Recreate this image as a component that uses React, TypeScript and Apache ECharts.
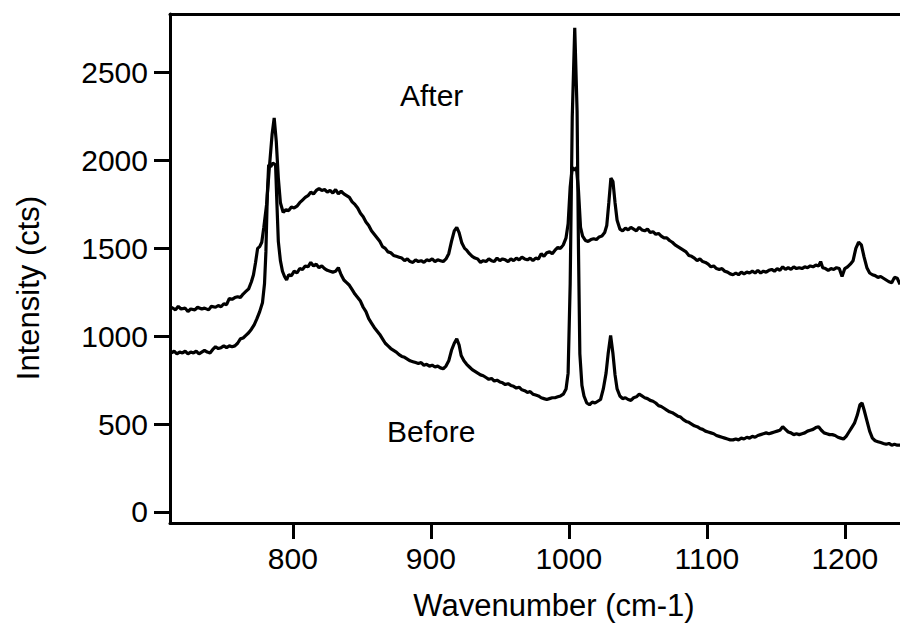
import React, { useEffect, useRef } from "react";
import * as echarts from "echarts";

const xTicks = [800, 900, 1000, 1100, 1200];
const yTicks = [0, 500, 1000, 1500, 2000, 2500];

const afterSeries: [number, number][] = [
  [712,1165],[715,1150],[717,1170],[719,1155],[722,1160],[724,1140],[726,1155],[729,1150],[731,1165],[734,1155],[736,1160],[739,1150],[741,1170],[744,1165],[746,1175],[748,1168],[750,1185],[752,1180],[754,1215],[756,1210],[758,1220],[760,1225],[762,1220],[764,1240],[766,1255],[768,1270],[770,1310],[771.5,1350],[773,1420],[774.5,1500],[776,1510],[777.5,1535],[779,1620],[781,1750],[783,1960],[785,2150],[786.5,2242],[788,2110],[789.5,1900],[791,1760],[793,1705],[795,1720],[797,1715],[799,1735],[801,1730],[803,1740],[805,1760],[807,1775],[809,1790],[811,1800],[813,1820],[815,1810],[817,1830],[819,1840],[821,1830],[823,1835],[825,1820],[827,1830],[829,1815],[831,1835],[833,1810],[835,1825],[837,1810],[839,1800],[841,1790],[843,1765],[845,1750],[847,1730],[849,1700],[851,1680],[853,1650],[855,1630],[857,1600],[859,1580],[861,1560],[863,1540],[865,1510],[867,1500],[869,1480],[871,1475],[873,1460],[875,1455],[877,1450],[879,1445],[881,1430],[883,1440],[885,1425],[887,1420],[889,1435],[891,1425],[893,1430],[895,1420],[897,1435],[899,1430],[901,1440],[903,1425],[905,1435],[907,1430],[909,1425],[911,1440],[913,1470],[915,1540],[917,1600],[918.8,1620],[920.5,1590],[922.5,1530],[924.5,1500],[926,1490],[928,1470],[930,1455],[932,1445],[934,1440],[936,1420],[938,1430],[940,1425],[942,1440],[944,1430],[946,1425],[948,1445],[950,1430],[952,1440],[954,1435],[956,1425],[958,1440],[960,1430],[962,1445],[964,1435],[966,1450],[968,1440],[970,1435],[972,1445],[974,1430],[976,1445],[978,1440],[980,1470],[982,1455],[984,1475],[986,1480],[988,1470],[990,1490],[992,1505],[994,1500],[996,1520],[998,1560],[999.5,1640],[1001,1850],[1002.5,1960],[1004,1945],[1005.5,1960],[1007,1830],[1008.5,1620],[1010,1570],[1012,1545],[1014,1540],[1016,1550],[1018,1555],[1020,1550],[1022,1565],[1024,1570],[1026,1590],[1027.5,1630],[1029,1760],[1030.5,1900],[1032,1880],[1033.5,1760],[1035,1660],[1037,1610],[1039,1600],[1041,1615],[1043,1605],[1045,1620],[1047,1610],[1049,1600],[1051,1620],[1053,1605],[1055,1600],[1057,1610],[1059,1590],[1061,1595],[1063,1580],[1065,1585],[1067,1570],[1069,1560],[1071,1560],[1073,1545],[1075,1535],[1077,1520],[1079,1510],[1081,1500],[1083,1490],[1085,1480],[1087,1460],[1089,1455],[1091,1445],[1093,1430],[1095,1440],[1097,1425],[1099,1420],[1101,1410],[1103,1395],[1105,1400],[1107,1385],[1109,1380],[1111,1385],[1113,1370],[1115,1365],[1117,1355],[1119,1350],[1121,1360],[1123,1350],[1125,1365],[1127,1355],[1129,1365],[1131,1360],[1133,1370],[1135,1360],[1137,1375],[1139,1360],[1141,1370],[1143,1365],[1145,1375],[1147,1380],[1149,1370],[1151,1385],[1153,1375],[1155,1395],[1157,1380],[1159,1390],[1161,1380],[1163,1395],[1165,1385],[1167,1390],[1169,1385],[1171,1395],[1173,1390],[1175,1400],[1177,1395],[1179,1405],[1181,1400],[1182.5,1425],[1184,1390],[1186,1385],[1188,1375],[1190,1385],[1192,1380],[1194,1390],[1196,1385],[1198,1340],[1200,1385],[1202,1395],[1204,1410],[1206,1430],[1208,1500],[1210,1535],[1212,1520],[1214,1450],[1216,1390],[1218,1360],[1220,1350],[1222,1345],[1224,1335],[1226,1340],[1228,1330],[1230,1320],[1232,1310],[1234,1305],[1236,1335],[1238,1330],[1240,1295],
];

const beforeSeries: [number, number][] = [
  [712,905],[714,915],[716,900],[718,910],[720,905],[722,915],[724,900],[726,910],[728,905],[730,915],[732,900],[734,910],[736,920],[738,910],[740,905],[742,925],[744,940],[746,930],[748,935],[750,945],[752,935],[754,945],[756,940],[758,945],[760,960],[762,985],[764,990],[766,1005],[768,1020],[770,1040],[772,1065],[774,1100],[776,1140],[778,1190],[779.5,1300],[780.5,1480],[781.5,1800],[782.5,1975],[784,1965],[785.5,1985],[787.5,1975],[788.5,1750],[789.5,1540],[791,1430],[792.5,1370],[794,1340],[795.5,1320],[797,1350],[799,1345],[801,1370],[803,1360],[805,1385],[807,1380],[809,1400],[811,1395],[813,1420],[815,1400],[817,1410],[819,1390],[821,1400],[823,1385],[825,1375],[827,1370],[829,1365],[831,1370],[833,1390],[835,1350],[837,1320],[839,1305],[841,1290],[843,1265],[845,1240],[847,1220],[849,1200],[851,1165],[853,1140],[855,1100],[857,1075],[859,1050],[861,1030],[863,1010],[865,985],[867,960],[869,945],[871,930],[873,920],[875,910],[877,895],[879,885],[881,880],[883,870],[885,860],[887,855],[889,850],[891,845],[893,850],[895,835],[897,840],[899,830],[901,835],[903,825],[905,830],[907,820],[909,815],[911,830],[913,860],[915,920],[917,960],[918.8,985],[920.5,950],[922,890],[924,860],[926,840],[928,825],[930,810],[932,800],[934,790],[936,780],[938,775],[940,765],[942,755],[944,760],[946,745],[948,750],[950,740],[952,735],[954,725],[956,730],[958,720],[960,715],[962,705],[964,710],[966,695],[968,690],[970,680],[972,685],[974,670],[976,665],[978,660],[980,650],[982,645],[984,640],[986,645],[988,650],[990,650],[992,655],[994,660],[996,670],[998,700],[999.5,790],[1001,1300],[1002.5,2250],[1004.3,2755],[1006,2280],[1007,1500],[1008,900],[1009.5,720],[1011,660],[1013,620],[1015,610],[1017,625],[1019,620],[1021,630],[1023,640],[1025,700],[1027,790],[1028.5,900],[1030.3,1005],[1032,900],[1033.5,780],[1035,700],[1037,660],[1039,645],[1041,650],[1043,640],[1045,635],[1047,650],[1049,655],[1051,670],[1053,660],[1055,650],[1057,645],[1059,635],[1061,630],[1063,620],[1065,605],[1067,600],[1069,590],[1071,580],[1073,570],[1075,565],[1077,555],[1079,545],[1081,540],[1083,525],[1085,515],[1087,510],[1089,500],[1091,490],[1093,485],[1095,475],[1097,470],[1099,460],[1101,455],[1103,450],[1105,445],[1107,435],[1109,430],[1111,425],[1113,420],[1115,415],[1117,410],[1119,410],[1121,415],[1123,410],[1125,420],[1127,415],[1129,425],[1131,420],[1133,430],[1135,425],[1137,435],[1139,440],[1141,445],[1143,450],[1145,445],[1147,450],[1149,455],[1151,460],[1153,465],[1155,485],[1157,470],[1159,455],[1161,450],[1163,440],[1165,445],[1167,440],[1169,445],[1171,450],[1173,460],[1175,465],[1177,470],[1179,480],[1181,485],[1183,465],[1185,450],[1187,445],[1189,440],[1191,440],[1193,435],[1195,425],[1197,420],[1199,415],[1201,430],[1203,455],[1205,480],[1207,505],[1209,550],[1211,610],[1212.5,620],[1214,580],[1216,520],[1218,460],[1220,420],[1222,405],[1224,400],[1226,395],[1228,390],[1230,385],[1232,390],[1234,380],[1236,385],[1238,380],[1240,380],
];

const FONT = "'Liberation Sans', Arial, Helvetica, sans-serif";

export default function App() {
  const ref = useRef<HTMLDivElement>(null);
  useEffect(() => {
    if (!ref.current) return;
    const chart = echarts.init(ref.current, null, { renderer: "svg" });
    const axisLineStyle = { color: "#000", width: 3 };
    const plain = (v: number) => String(v);
    chart.setOption({
      animation: false,
      backgroundColor: "#fff",
      textStyle: { fontFamily: FONT },
      grid: { left: 170, top: 14, right: 0, bottom: 106, containLabel: false },
      xAxis: [
        {
          type: "value",
          min: 711,
          max: 1240,
          axisLine: { show: true, onZero: false, lineStyle: axisLineStyle },
          axisTick: { show: true, inside: false, length: 16, customValues: xTicks, lineStyle: { color: "#000", width: 3 } },
          axisLabel: { show: true, customValues: xTicks, formatter: plain, margin: 20, fontSize: 30, color: "#000", fontFamily: FONT },
          splitLine: { show: false },
        },
        {
          type: "value",
          position: "top",
          min: 711,
          max: 1240,
          axisLine: { show: true, onZero: false, lineStyle: axisLineStyle },
          axisTick: { show: false },
          axisLabel: { show: false },
          splitLine: { show: false },
        },
      ],
      yAxis: {
        type: "value",
        min: -63,
        max: 2834,
        axisLine: { show: true, onZero: false, lineStyle: axisLineStyle },
        axisTick: { show: true, inside: false, length: 16, customValues: yTicks, lineStyle: { color: "#000", width: 3 } },
        axisLabel: { show: true, customValues: yTicks, formatter: plain, margin: 22, fontSize: 30, color: "#000", fontFamily: FONT },
        splitLine: { show: false },
      },
      series: [
        {
          name: "After",
          type: "line",
          data: afterSeries,
          showSymbol: false,
          lineStyle: { color: "#000", width: 3.2 },
          z: 3,
        },
        {
          name: "Before",
          type: "line",
          data: beforeSeries,
          showSymbol: false,
          lineStyle: { color: "#000", width: 3.2 },
          z: 3,
        },
      ],
      graphic: [
        { type: "text", left: 400, top: 80, style: { text: "After", fontSize: 30, fill: "#000", fontFamily: FONT } },
        { type: "text", left: 387, top: 416, style: { text: "Before", fontSize: 30, fill: "#000", fontFamily: FONT } },
        {
          type: "text",
          x: 554,
          y: 605,
          style: { text: "Wavenumber (cm-1)", fontSize: 31, fill: "#000", fontFamily: FONT, align: "center", verticalAlign: "middle" },
        },
        {
          type: "text",
          x: 28,
          y: 288,
          rotation: Math.PI / 2,
          style: { text: "Intensity (cts)", fontSize: 31, fill: "#000", fontFamily: FONT, align: "center", verticalAlign: "middle" },
        },
      ],
    });
    return () => chart.dispose();
  }, []);
  return <div ref={ref} style={{ position: "fixed", left: 0, top: 0, width: 900, height: 629, background: "#fff" }} />;
}
